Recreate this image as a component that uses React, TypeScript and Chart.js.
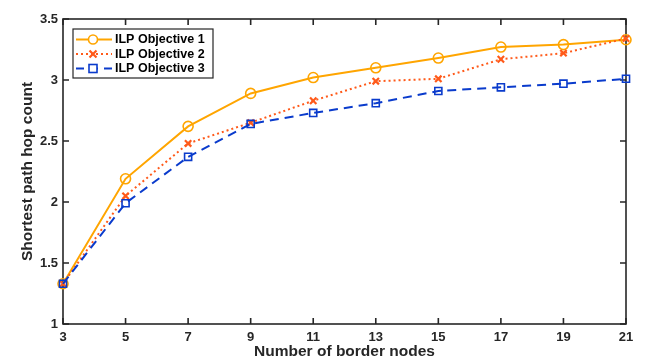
import React, { useEffect, useRef } from "react";
import { Chart, registerables } from "chart.js";

Chart.register(...registerables);

const borderNodes = [3, 5, 7, 9, 11, 13, 15, 17, 19, 21];
const objective1 = [1.33, 2.19, 2.62, 2.89, 3.02, 3.1, 3.18, 3.27, 3.29, 3.33];
const objective2 = [1.33, 2.05, 2.48, 2.65, 2.83, 2.99, 3.01, 3.17, 3.22, 3.34];
const objective3 = [1.33, 1.99, 2.37, 2.64, 2.73, 2.81, 2.91, 2.94, 2.97, 3.01];
const seriesNames = ["ILP Objective 1", "ILP Objective 2", "ILP Objective 3"];

const AXIS = "#262626";
const FONT = "'Liberation Sans', Arial, sans-serif";
const C1 = "#FFA500";
const C2 = "#FF5A1A";
const C3 = "#0A3BCC";

const framePlugin = {
  id: "frame",
  beforeDatasetsDraw(chart: any) {
    const { ctx, chartArea: a, scales } = chart;
    ctx.save();
    ctx.strokeStyle = AXIS;
    ctx.lineWidth = 1.6;
    ctx.strokeRect(a.left, a.top, a.right - a.left, a.bottom - a.top);
    const L = 6;
    ctx.beginPath();
    scales.x.ticks.forEach((t: any) => {
      const px = scales.x.getPixelForValue(t.value);
      ctx.moveTo(px, a.bottom);
      ctx.lineTo(px, a.bottom - L);
      ctx.moveTo(px, a.top);
      ctx.lineTo(px, a.top + L);
    });
    scales.y.ticks.forEach((t: any) => {
      const py = scales.y.getPixelForValue(t.value);
      ctx.moveTo(a.left, py);
      ctx.lineTo(a.left + L, py);
      ctx.moveTo(a.right, py);
      ctx.lineTo(a.right - L, py);
    });
    ctx.stroke();
    ctx.restore();
  },
  afterDatasetsDraw(chart: any) {
    const { ctx, chartArea: a } = chart;
    const bx = a.left + 10;
    const by = a.top + 10;
    const bw = 140;
    const bh = 49;
    ctx.save();
    ctx.fillStyle = "#ffffff";
    ctx.fillRect(bx, by, bw, bh);
    ctx.strokeStyle = AXIS;
    ctx.lineWidth = 1.2;
    ctx.strokeRect(bx, by, bw, bh);
    const rows = [by + 10.5, by + 25, by + 39.5];
    const styles = [
      { color: C1, dash: [] as number[], marker: "circle" },
      { color: C2, dash: [2, 3], marker: "cross" },
      { color: C3, dash: [8, 6], marker: "rect" },
    ];
    rows.forEach((ry, i) => {
      const s = styles[i];
      ctx.strokeStyle = s.color;
      ctx.lineWidth = 2;
      ctx.setLineDash(s.dash);
      ctx.beginPath();
      ctx.moveTo(bx + 3, ry);
      ctx.lineTo(bx + 39, ry);
      ctx.stroke();
      ctx.setLineDash([]);
      const mx = bx + 20;
      ctx.lineWidth = s.marker === "cross" ? 2.2 : 1.6;
      ctx.beginPath();
      if (s.marker === "circle") {
        ctx.fillStyle = "#ffffff";
        ctx.arc(mx, ry, 4.5, 0, Math.PI * 2);
        ctx.fill();
        ctx.stroke();
      } else if (s.marker === "cross") {
        ctx.moveTo(mx - 3.5, ry - 3.5);
        ctx.lineTo(mx + 3.5, ry + 3.5);
        ctx.moveTo(mx + 3.5, ry - 3.5);
        ctx.lineTo(mx - 3.5, ry + 3.5);
        ctx.stroke();
      } else {
        ctx.fillStyle = "#ffffff";
        ctx.fillRect(mx - 4, ry - 4, 8, 8);
        ctx.strokeRect(mx - 4, ry - 4, 8, 8);
      }
      ctx.fillStyle = "#000000";
      ctx.font = `bold 12.5px ${FONT}`;
      ctx.textBaseline = "middle";
      ctx.textAlign = "left";
      ctx.fillText(seriesNames[i], bx + 42, ry + 0.5);
    });
    ctx.restore();
  },
};

export default function App() {
  const ref = useRef<HTMLCanvasElement>(null);
  useEffect(() => {
    if (!ref.current) return;
    const mk = (vals: number[]) => borderNodes.map((x, i) => ({ x, y: vals[i] }));
    const chart = new Chart(ref.current, {
      type: "line",
      data: {
        datasets: [
          {
            label: seriesNames[0],
            data: mk(objective1),
            borderColor: C1,
            backgroundColor: "rgba(255,255,255,0)",
            borderWidth: 2,
            pointStyle: "circle",
            pointRadius: 5,
            pointBorderWidth: 1.6,
            pointBorderColor: C1,
            pointBackgroundColor: "rgba(255,255,255,0)",
            order: 3,
            clip: false,
          } as any,
          {
            label: seriesNames[1],
            data: mk(objective2),
            borderColor: C2,
            backgroundColor: "rgba(255,255,255,0)",
            borderWidth: 2,
            borderDash: [2, 3],
            pointStyle: "crossRot",
            pointRadius: 4.5,
            pointBorderWidth: 2.2,
            pointBorderColor: C2,
            order: 2,
            clip: false,
          },
          {
            label: seriesNames[2],
            data: mk(objective3),
            borderColor: C3,
            backgroundColor: "rgba(255,255,255,0)",
            borderWidth: 2,
            borderDash: [9, 6],
            pointStyle: "rect",
            pointRadius: 5,
            pointBorderWidth: 1.6,
            pointBorderColor: C3,
            pointBackgroundColor: "rgba(255,255,255,0)",
            order: 1,
            clip: false,
          },
        ],
      },
      options: {
        responsive: false,
        animation: false,
        layout: { padding: { top: 19, right: 19, left: 0, bottom: 0 } },
        plugins: { legend: { display: false }, tooltip: { enabled: false } },
        scales: {
          x: {
            type: "linear",
            min: 3,
            max: 21,
            grid: { display: false, drawTicks: false },
            border: { display: false },
            ticks: {
              stepSize: 2,
              padding: 6,
              color: AXIS,
              font: { family: FONT, size: 13, weight: "bold" },
            },
            title: {
              display: true,
              text: "Number of border nodes",
              color: AXIS,
              padding: { top: 0, bottom: 3 },
              font: { family: FONT, size: 15.5, weight: "bold" },
            },
            afterFit(scale: any) {
              scale.height = 40;
            },
          },
          y: {
            type: "linear",
            min: 1,
            max: 3.5,
            grid: { display: false, drawTicks: false },
            border: { display: false },
            ticks: {
              stepSize: 0.5,
              padding: 5,
              color: AXIS,
              font: { family: FONT, size: 13, weight: "bold" },
              callback: (v: any) => String(v),
            },
            title: {
              display: true,
              text: "Shortest path hop count",
              color: AXIS,
              padding: { top: 18, bottom: 4 },
              font: { family: FONT, size: 15.5, weight: "bold" },
            },
            afterFit(scale: any) {
              scale.width = 63;
            },
          },
        },
      },
      plugins: [framePlugin],
    });
    return () => chart.destroy();
  }, []);
  return (
    <div style={{ position: "fixed", left: 0, top: 0, width: 645, height: 364, background: "#fff" }}>
      <canvas ref={ref} width={645} height={364} style={{ display: "block" }} />
    </div>
  );
}
